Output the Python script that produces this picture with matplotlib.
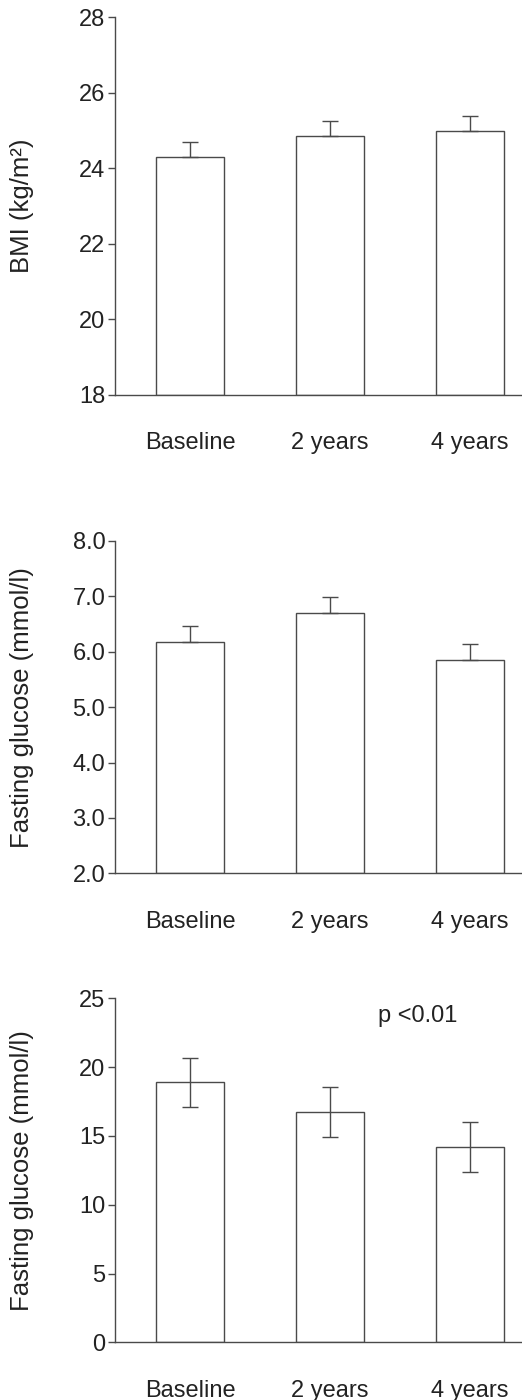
import matplotlib
matplotlib.use('Agg')
import matplotlib.pyplot as plt
from matplotlib.ticker import FormatStrFormatter

categories = ['Baseline', '2 years', '4 years']

bmi_mean = [24.3, 24.85, 25.0]
bmi_err  = [0.4, 0.4, 0.4]

glucose_mean = [6.18, 6.7, 5.85]
glucose_err  = [0.28, 0.28, 0.29]

third_mean = [18.9, 16.75, 14.2]
third_err  = [1.8, 1.8, 1.8]

font     = 'Liberation Sans'
line_col = '#4a4a4a'
text_col = '#222222'

plt.rcParams['font.family'] = [font, 'DejaVu Sans']
plt.rcParams['text.color'] = text_col
plt.rcParams['axes.labelcolor'] = text_col
plt.rcParams['xtick.color'] = text_col
plt.rcParams['ytick.color'] = text_col

fig = plt.figure(figsize=(5.22, 14), dpi=100)

# axes boxes in figure fractions (left, bottom, width, height)
panels = [
    dict(box=[0.2203, 0.7179, 0.7797, 0.2697], mean=bmi_mean, err=bmi_err,
         lim=(18, 28), ticks=[18, 20, 22, 24, 26, 28], fmt='%d',
         label='BMI (kg/m²)', both=False),
    dict(box=[0.2203, 0.3762, 0.7797, 0.2374], mean=glucose_mean, err=glucose_err,
         lim=(2, 8), ticks=[2, 3, 4, 5, 6, 7, 8], fmt='%.1f',
         label='Fasting glucose (mmol/l)', both=False),
    dict(box=[0.2203, 0.0412, 0.7797, 0.2457], mean=third_mean, err=third_err,
         lim=(0, 25), ticks=[0, 5, 10, 15, 20, 25], fmt='%d',
         label='Fasting glucose (mmol/l)', both=True),
]

x = list(range(len(categories)))

for p in panels:
    ax = fig.add_axes(p['box'])
    lo = p['lim'][0]
    heights = [m - lo for m in p['mean']]
    ax.bar(x, heights, bottom=lo, width=0.48, color='white',
           edgecolor=line_col, linewidth=1.0, zorder=2)
    if p['both']:
        yerr = [p['err'], p['err']]
    else:
        yerr = [[0] * len(p['err']), p['err']]
    ax.errorbar(x, p['mean'], yerr=yerr, fmt='none', ecolor=line_col,
                elinewidth=1.0, capsize=5.6, capthick=1.0, zorder=3)

    ax.set_xlim(-0.536, 2.371)
    ax.set_ylim(*p['lim'])
    ax.set_yticks(p['ticks'])
    ax.yaxis.set_major_formatter(FormatStrFormatter(p['fmt']))
    ax.set_xticks(x)
    ax.set_xticklabels(categories)

    for s in ['top', 'right']:
        ax.spines[s].set_visible(False)
    for s in ['left', 'bottom']:
        ax.spines[s].set_color(line_col)
        ax.spines[s].set_linewidth(1.0)

    ax.tick_params(axis='y', length=5, width=1.0, color=line_col,
                   pad=2, labelsize=17)
    ax.tick_params(axis='x', length=0, pad=27, labelsize=17)

    ax.set_ylabel(p['label'], fontsize=18.5)
    ax.yaxis.set_label_coords(-0.20, 0.5)

    if p['both']:
        ax.text(1.343, 23.28, 'p <0.01', fontsize=17, ha='left', va='baseline')

fig.savefig('out.png', dpi=100, facecolor='white')
